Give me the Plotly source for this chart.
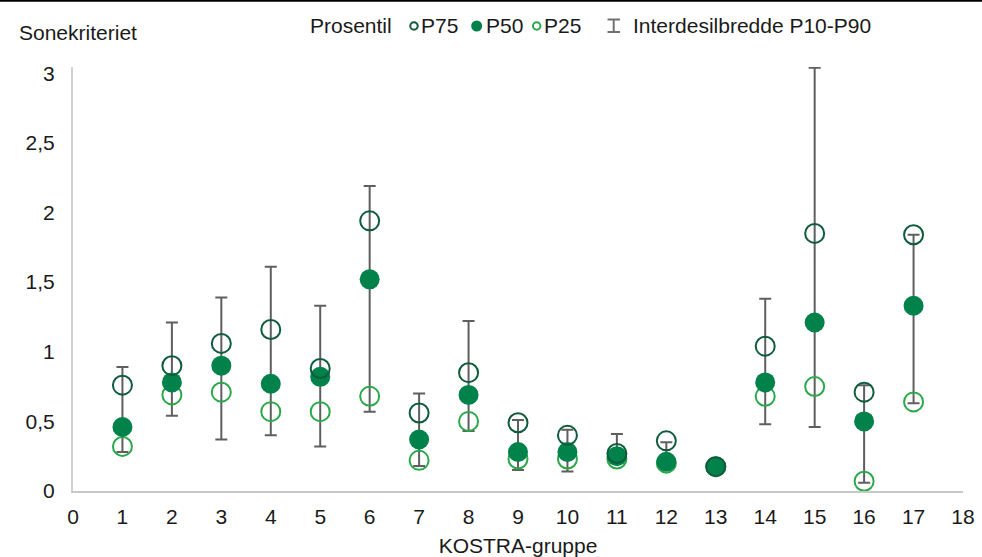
import plotly.graph_objects as go

# KOSTRA groups and percentiles of the zone criterion
groups = list(range(1, 18))
p90 = [0.89, 1.21, 1.39, 1.61, 1.33, 2.19, 0.70, 1.22, 0.51, 0.44, 0.41, 0.35, 0.175, 1.38, 3.04, 0.76, 1.84]
p75 = [0.76, 0.90, 1.06, 1.16, 0.88, 1.94, 0.56, 0.85, 0.49, 0.40, 0.27, 0.36, 0.175, 1.04, 1.85, 0.71, 1.84]
p50 = [0.46, 0.78, 0.90, 0.77, 0.82, 1.52, 0.37, 0.69, 0.28, 0.28, 0.25, 0.21, 0.175, 0.78, 1.21, 0.50, 1.33]
p25 = [0.32, 0.69, 0.71, 0.57, 0.57, 0.68, 0.22, 0.50, 0.23, 0.23, 0.23, 0.20, 0.175, 0.68, 0.75, 0.07, 0.64]
p10 = [0.28, 0.54, 0.37, 0.40, 0.32, 0.57, 0.18, 0.43, 0.15, 0.14, 0.22, 0.20, 0.175, 0.48, 0.46, 0.06, 0.63]

y_ticks = [0, 0.5, 1, 1.5, 2, 2.5, 3]
y_tick_labels = ["0", "0,5", "1", "1,5", "2", "2,5", "3"]
x_ticks = list(range(0, 19))

DARK = "#0f5c3c"
MID = "#00824a"
LIGHT = "#2aa84a"
GREY = "#5f5f5f"
FONT = "Liberation Sans, Arial, sans-serif"
FS = 21

# plot area in pixels, used to place the header items in paper units
L, R, T, B = 73, 963, 67, 491


def px(x):
    return (x - L) / (R - L)


def py(y):
    return (B - y) / (B - T)


fig = go.Figure()

# P10-P90 span drawn as error bars around the median
fig.add_trace(go.Scatter(
    x=groups, y=p50, mode="markers",
    marker=dict(size=1, color="rgba(0,0,0,0)"),
    error_y=dict(type="data", symmetric=False,
                 array=[hi - m for hi, m in zip(p90, p50)],
                 arrayminus=[m - lo for m, lo in zip(p50, p10)],
                 color=GREY, thickness=2, width=6),
    showlegend=False, hoverinfo="skip"))

fig.add_trace(go.Scatter(
    x=groups, y=p25, mode="markers", name="P25",
    marker=dict(symbol="circle-open", size=19, color=LIGHT, line=dict(width=2, color=LIGHT))))
fig.add_trace(go.Scatter(
    x=groups, y=p50, mode="markers", name="P50",
    marker=dict(symbol="circle", size=20, color=MID, line=dict(width=0))))
fig.add_trace(go.Scatter(
    x=groups, y=p75, mode="markers", name="P75",
    marker=dict(symbol="circle-open", size=19, color=DARK, line=dict(width=2, color=DARK))))

# Header legend built from text and small shapes
ly = 25.5
annotations = [
    dict(text="Sonekriteriet", x=px(17), y=py(33)),
    dict(text="Prosentil", x=px(308), y=py(ly)),
    dict(text="P75", x=px(419), y=py(ly)),
    dict(text="P50", x=px(484), y=py(ly)),
    dict(text="P25", x=px(542), y=py(ly)),
    dict(text="Interdesilbredde P10-P90", x=px(631), y=py(ly)),
]
for a in annotations:
    a.update(xref="paper", yref="paper", xanchor="left", yanchor="middle",
             showarrow=False, font=dict(size=FS, family=FONT, color="#1a1a1a"))


def dot(cx, d, fill, line_color, lw):
    return dict(type="circle", xref="paper", yref="paper",
                xsizemode="pixel", ysizemode="pixel",
                xanchor=px(cx), yanchor=py(ly + 0.5),
                x0=-d / 2, x1=d / 2, y0=-d / 2, y1=d / 2,
                fillcolor=fill, line=dict(color=line_color, width=lw))


shapes = [
    dict(type="line", xref="paper", yref="paper",
         x0=px(-10), x1=px(992), y0=py(0.8), y1=py(0.8),
         line=dict(color="black", width=1.8)),
    dot(414, 7.5, "rgba(0,0,0,0)", DARK, 2),
    dot(476.7, 11, MID, MID, 0),
    dot(536.7, 7.5, "rgba(0,0,0,0)", LIGHT, 2),
]
# I-beam marker for the P10-P90 span
IB = "#707070"
shapes += [
    dict(type="line", xref="paper", yref="paper", x0=px(613.7), x1=px(613.7),
         y0=py(19), y1=py(32.5), line=dict(color=IB, width=2)),
    dict(type="line", xref="paper", yref="paper", x0=px(607.5), x1=px(620), y0=py(19.5), y1=py(19.5),
         line=dict(color=IB, width=2)),
    dict(type="line", xref="paper", yref="paper", x0=px(607.5), x1=px(620), y0=py(32), y1=py(32),
         line=dict(color=IB, width=2)),
]

fig.update_layout(
    width=982, height=557,
    margin=dict(l=L, r=982 - R, t=T, b=557 - B, autoexpand=False),
    paper_bgcolor="white", plot_bgcolor="white",
    font=dict(family=FONT, size=FS, color="#1a1a1a"),
    showlegend=False,
    xaxis=dict(range=[0, 18], tickvals=x_ticks, ticks="outside", ticklen=6,
               tickcolor="rgba(0,0,0,0)", showgrid=False,
               zeroline=False, showline=True, linecolor="#c8c8c8", linewidth=2,
               tickfont=dict(size=FS), title=dict(text="KOSTRA-gruppe", standoff=12, font=dict(size=FS))),
    yaxis=dict(range=[0, 3.045], tickvals=y_ticks, ticktext=y_tick_labels, ticks="outside",
               ticklen=12, tickcolor="rgba(0,0,0,0)",
               showgrid=False, zeroline=False, showline=True, linecolor="#d0d0d0", linewidth=2,
               tickfont=dict(size=FS)),
    annotations=annotations,
    shapes=shapes,
)

fig.write_html("out.html")
